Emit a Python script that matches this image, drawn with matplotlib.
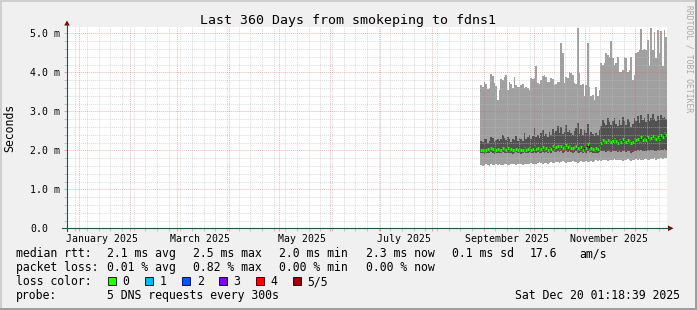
import datetime as dt
import matplotlib
matplotlib.use('Agg')
import matplotlib.pyplot as plt
import matplotlib.dates as mdates
from matplotlib.lines import Line2D
from matplotlib.patches import Rectangle, Polygon
from matplotlib.ticker import MultipleLocator

W, H = 697, 310

# time window of the graph
t_start = dt.datetime(2024, 12, 25, 1, 18, 39)
t_end = dt.datetime(2025, 12, 20, 1, 18, 39)
first_day = dt.datetime(2025, 8, 30)

# daily values (ms), sorted pings 1..5 -> min, 2nd, median, 4th, max
ping_min = [1.62, 1.60, 1.63, 1.64, 1.62, 1.61, 1.64, 1.63, 1.62, 1.65,
            1.63, 1.64, 1.62, 1.63, 1.65, 1.64, 1.62, 1.63, 1.64, 1.66,
            1.64, 1.63, 1.65, 1.66, 1.64, 1.63, 1.65, 1.64, 1.66, 1.65,
            1.67, 1.66, 1.64, 1.66, 1.68, 1.70, 1.67, 1.66, 1.68, 1.67,
            1.66, 1.68, 1.69, 1.67, 1.68, 1.70, 1.69, 1.68, 1.70, 1.72,
            1.69, 1.68, 1.70, 1.71, 1.69, 1.72, 1.70, 1.71, 1.68, 1.70,
            1.72, 1.71, 1.69, 1.72, 1.70, 1.71, 1.73, 1.70, 1.72, 1.74,
            1.72, 1.75, 1.73, 1.76, 1.74, 1.75, 1.73, 1.76, 1.75, 1.74,
            1.77, 1.75, 1.74, 1.76, 1.75, 1.73, 1.76, 1.74, 1.77, 1.75,
            1.72, 1.74, 1.76, 1.78, 1.75, 1.77, 1.76, 1.74, 1.77, 1.78,
            1.76, 1.75, 1.78, 1.77, 1.79, 1.76, 1.78, 1.77, 1.79, 1.78,
            1.80, 1.79]
ping_lo = [1.93, 1.92, 1.91, 1.94, 1.93, 1.92, 1.95, 1.93, 1.91, 1.92,
           1.94, 1.93, 1.92, 1.95, 1.93, 1.92, 1.94, 1.93, 1.92, 1.91,
           1.93, 1.95, 1.92, 1.94, 1.91, 1.93, 1.95, 1.92, 1.94, 1.95,
           1.93, 1.94, 1.96, 1.93, 1.95, 1.92, 1.94, 1.96, 1.93, 1.95,
           1.93, 1.96, 1.94, 1.97, 1.95, 1.96, 1.98, 1.95, 1.97, 1.94,
           1.96, 1.98, 1.95, 1.97, 1.95, 1.93, 1.96, 1.97, 1.94, 1.93,
           1.95, 1.92, 1.96, 1.94, 1.97, 1.93, 1.95, 1.94, 1.92, 1.94,
           1.93, 1.96, 1.98, 1.99, 1.97, 1.96, 1.98, 1.97, 1.95, 1.98,
           1.99, 1.97, 1.95, 1.98, 1.96, 1.99, 1.97, 1.95, 1.98, 1.97,
           1.94, 1.96, 1.99, 1.97, 2.00, 1.97, 2.01, 1.98, 1.99, 1.97,
           2.01, 1.98, 2.00, 2.02, 1.99, 1.98, 2.01, 1.99, 2.02, 2.00,
           2.04, 2.02]
median = [2.00, 2.01, 1.99, 2.02, 2.04, 2.00, 2.05, 2.03, 1.99, 2.02,
          2.04, 2.01, 2.00, 2.06, 2.03, 2.02, 2.05, 2.01, 2.03, 2.00,
          2.02, 2.04, 2.01, 2.03, 2.00, 2.02, 2.06, 2.01, 2.03, 2.05,
          2.02, 2.04, 2.12, 2.03, 2.06, 2.02, 2.04, 2.08, 2.03, 2.05,
          2.02, 2.07, 2.04, 2.10, 2.06, 2.08, 2.12, 2.07, 2.10, 2.05,
          2.09, 2.14, 2.08, 2.11, 2.07, 2.05, 2.09, 2.12, 2.06, 2.04,
          2.08, 2.02, 2.10, 2.05, 2.15, 2.03, 2.06, 2.04, 2.02, 2.05,
          2.03, 2.10, 2.18, 2.26, 2.24, 2.22, 2.27, 2.24, 2.22, 2.25,
          2.28, 2.23, 2.20, 2.26, 2.22, 2.30, 2.25, 2.21, 2.27, 2.24,
          2.18, 2.22, 2.28, 2.26, 2.30, 2.24, 2.33, 2.27, 2.30, 2.26,
          2.34, 2.28, 2.31, 2.36, 2.32, 2.29, 2.35, 2.30, 2.38, 2.33,
          2.45, 2.40]
ping_hi = [2.25, 2.22, 2.30, 2.28, 2.20, 2.24, 2.35, 2.31, 2.22, 2.26,
           2.30, 2.24, 2.28, 2.40, 2.32, 2.26, 2.34, 2.28, 2.22, 2.30,
           2.27, 2.36, 2.25, 2.31, 2.28, 2.24, 2.45, 2.30, 2.33, 2.38,
           2.29, 2.36, 2.58, 2.34, 2.40, 2.32, 2.44, 2.52, 2.36, 2.42,
           2.35, 2.48, 2.40, 2.55, 2.45, 2.50, 2.62, 2.44, 2.60, 2.42,
           2.48, 2.66, 2.46, 2.52, 2.45, 2.40, 2.50, 2.58, 2.70, 2.42,
           2.55, 2.38, 2.52, 2.44, 2.68, 2.40, 2.46, 2.42, 2.36, 2.44,
           2.40, 2.52, 2.62, 2.78, 2.70, 2.66, 2.82, 2.72, 2.64, 2.76,
           2.84, 2.68, 2.62, 2.78, 2.66, 2.86, 2.74, 2.64, 2.80, 2.72,
           2.60, 2.68, 2.84, 2.76, 2.88, 2.70, 2.90, 2.78, 2.82, 2.72,
           2.92, 2.76, 2.84, 2.94, 2.80, 2.74, 2.88, 2.78, 2.90, 2.82,
           2.86, 2.80]
ping_max = [3.67, 3.62, 3.74, 3.70, 3.58, 3.60, 3.96, 3.90, 3.72, 3.66,
            3.29, 3.54, 3.84, 3.80, 3.88, 3.93, 3.54, 3.76, 3.70, 3.59,
            3.87, 3.67, 3.63, 3.62, 3.67, 3.70, 3.59, 3.63, 3.60, 3.55,
            3.85, 3.82, 3.86, 4.17, 3.72, 3.70, 3.80, 3.90, 3.93, 3.88,
            3.76, 3.74, 3.85, 3.83, 3.67, 3.70, 3.76, 3.74, 4.74, 4.49,
            3.72, 3.89, 3.85, 4.02, 3.97, 3.93, 3.72, 3.70, 5.13, 3.97,
            3.67, 3.70, 3.38, 3.67, 4.76, 3.63, 3.38, 3.42, 3.29, 3.63,
            3.38, 3.55, 4.23, 4.20, 4.25, 4.49, 4.44, 4.40, 4.79, 4.36,
            4.19, 4.23, 4.40, 4.02, 4.02, 4.06, 4.40, 4.36, 4.02, 4.06,
            4.40, 3.80, 3.93, 4.49, 4.52, 4.57, 5.10, 4.57, 4.61, 4.57,
            4.83, 4.15, 5.13, 4.57, 5.04, 4.36, 5.08, 4.49, 5.06, 4.15,
            5.08, 4.91]

month_labels = ['January 2025', 'March 2025', 'May 2025', 'July 2025',
                'September 2025', 'November 2025']
label_months = [1, 3, 5, 7, 9, 11]
ytick_vals = [0, 1, 2, 3, 4, 5]
ytick_labels = ['0.0', '1.0 m', '2.0 m', '3.0 m', '4.0 m', '5.0 m']

rtt_stats = ['2.1 ms avg', '2.5 ms max', '2.0 ms min', '2.3 ms now', '0.1 ms sd', '17.6', 'am/s']
loss_stats = ['0.01 % avg', '0.82 % max', '0.00 % min', '0.00 % now']
loss_labels = ['0', '1', '2', '3', '4', '5/5']
loss_colors = ['#26ff00', '#00b8ff', '#0059ff', '#7e00ff', '#ff0000', '#a10000']

MONO = 'DejaVu Sans Mono'
plt.rcParams['font.family'] = MONO


def fx(x):
    return x / W


def fy(y):
    return 1 - y / H


fig = plt.figure(figsize=(W / 100, H / 100), dpi=100, facecolor='#f0f0f0')

# 3d-ish frame
fig.patches.append(Rectangle((0, fy(2)), 1, 2 / H, transform=fig.transFigure, color='#cfcfcf', lw=0))
fig.patches.append(Rectangle((0, 0), 2 / W, 1, transform=fig.transFigure, color='#cfcfcf', lw=0))
fig.patches.append(Rectangle((0, 0), 1, 2 / H, transform=fig.transFigure, color='#9e9e9e', lw=0))
fig.patches.append(Rectangle((fx(W - 2), 0), 2 / W, 1, transform=fig.transFigure, color='#9e9e9e', lw=0))

x0, x1 = 67, 667
y_top, y_bot = 26.7, 228.3
ax = fig.add_axes([fx(x0), fy(y_bot), (x1 - x0) / W, (y_bot - y_top) / H])
ax.set_facecolor('white')
for s in ax.spines.values():
    s.set_visible(False)

edges = [first_day + dt.timedelta(days=i) for i in range(len(median) + 1)]


def ext(v):
    return list(v) + [v[-1]]


ax.fill_between(edges, ext(ping_min), ext(ping_max), step='post', color='#a0a0a0', lw=0, zorder=1)
ax.fill_between(edges, ext(ping_lo), ext(ping_hi), step='post', color='#525252', lw=0, zorder=1.1)
ax.step(edges, ext(median), where='post', color='#151515', lw=0.8, zorder=3)
ax.hlines(median, edges[:-1], edges[1:], color=loss_colors[0], lw=2.0, zorder=3.1)

ax.set_xlim(t_start, t_end)
ax.set_ylim(0, (y_bot - y_top) / 39.0)

ax.xaxis.set_major_locator(mdates.MonthLocator())
ax.xaxis.set_minor_locator(mdates.WeekdayLocator(byweekday=mdates.MO))
ax.yaxis.set_major_locator(MultipleLocator(1))
ax.yaxis.set_minor_locator(MultipleLocator(0.2))
ax.set_axisbelow(False)
ax.grid(which='minor', color='#bdbdbd', alpha=0.55, lw=0.7, linestyle=(0, (1, 1)))
ax.grid(which='major', color='#e06060', alpha=0.45, lw=0.7, linestyle=(0, (1, 1)))
ax.tick_params(which='minor', length=2.2, width=0.7, color='#c4c4c4', direction='out')
ax.tick_params(which='major', length=2.2, width=0.7, color='#eca0a0', direction='out')
ax.tick_params(labelbottom=False, labelleft=False)

# y tick labels, "0.0" has an empty unit column
for v, lab in zip(ytick_vals, ytick_labels):
    off = -7 if ' ' in lab else -19
    ax.annotate(lab, xy=(0, v), xycoords=('axes fraction', 'data'), xytext=(off, 0),
                textcoords='offset pixels', ha='right', va='center_baseline',
                fontsize=7.15, family=MONO, annotation_clip=False)

# month labels centred mid-month
for m, lab in zip(label_months, month_labels):
    ax.annotate(lab, xy=(dt.datetime(2025, m, 15), 0), xycoords=('data', 'axes fraction'),
                xytext=(0, -10), textcoords='offset pixels', ha='center', va='center_baseline',
                fontsize=7.15, family=MONO, annotation_clip=False)

# axis lines with arrows
axis_col = '#2c4d43'
arrow_col = '#7f0000'
fig.add_artist(Line2D([fx(62), fx(669)], [fy(y_bot), fy(y_bot)], transform=fig.transFigure, color=axis_col, lw=0.8))
fig.add_artist(Line2D([fx(x0), fx(x0)], [fy(231), fy(24)], transform=fig.transFigure, color=axis_col, lw=0.8))
fig.add_artist(Polygon([(fx(668), fy(y_bot - 2.8)), (fx(673.5), fy(y_bot)), (fx(668), fy(y_bot + 2.8))],
                       closed=True, transform=fig.transFigure, color=arrow_col, lw=0))
fig.add_artist(Polygon([(fx(x0 - 2.8), fy(25.5)), (fx(x0), fy(20.5)), (fx(x0 + 2.8), fy(25.5))],
                       closed=True, transform=fig.transFigure, color=arrow_col, lw=0))

# title and side texts
fig.text(fx(348), fy(24), 'Last 360 Days from smokeping to fdns1', ha='center', va='baseline',
         fontsize=9.55, family=MONO)
fig.text(fx(10), fy(127.5), 'Seconds', rotation=90, ha='center', va='center', fontsize=8.3, family=MONO)
fig.text(fx(688.5), fy(58.5), 'RRDTOOL / TOBI OETIKER', rotation=270, ha='center', va='center',
         fontsize=5.8, family=MONO, color='#a8a8a8')

# legend block
lfs = 8.3
rows = [257.3, 271.3, 285.3, 299.0]
fig.text(fx(16), fy(rows[0]), 'median rtt:', fontsize=lfs, va='baseline')
for x, s in zip([107.3, 193.3, 279.3, 365.7, 451.7, 530.0, 579.3], rtt_stats):
    fig.text(fx(x), fy(rows[0]), s, fontsize=lfs, va='baseline')
fig.text(fx(16), fy(rows[1]), 'packet loss:', fontsize=lfs, va='baseline')
for x, s in zip([107.3, 193.3, 279.3, 365.7], loss_stats):
    fig.text(fx(x), fy(rows[1]), s, fontsize=lfs, va='baseline')
fig.text(fx(16), fy(rows[2]), 'loss color:', fontsize=lfs, va='baseline')
for k, (lab, col) in enumerate(zip(loss_labels, loss_colors)):
    bx = 108.3 + k * 37.0
    fig.patches.append(Rectangle((fx(bx), fy(rows[2])), 7.5 / W, 8 / H, transform=fig.transFigure,
                                 facecolor=col, edgecolor='black', lw=0.6))
    fig.text(fx(bx + 14.4), fy(rows[2]), lab, fontsize=lfs, va='baseline')
fig.text(fx(16), fy(rows[3]), 'probe:', fontsize=lfs, va='baseline')
fig.text(fx(107.3), fy(rows[3]), '5 DNS requests every 300s', fontsize=lfs, va='baseline')
fig.text(fx(680), fy(rows[3]), 'Sat Dec 20 01:18:39 2025', fontsize=lfs, va='baseline', ha='right')

fig.savefig('out.png', dpi=100, facecolor=fig.get_facecolor())
